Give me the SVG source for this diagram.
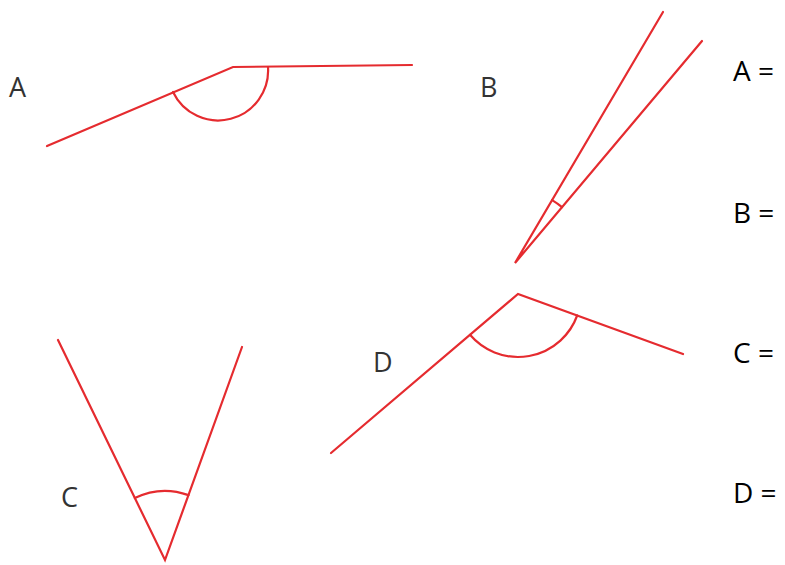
<svg xmlns="http://www.w3.org/2000/svg" width="785" height="565" viewBox="0 0 785 565">
<style>
.ln{fill:none;stroke:#e52b2f;stroke-width:2.2;stroke-linecap:round;stroke-linejoin:miter}
.lbl{font-family:"Open Sans","Liberation Sans",sans-serif;font-size:27px;fill:#333}
.ans{font-family:"Open Sans","Liberation Sans",sans-serif;font-size:28px;fill:#000}
</style>
<rect width="785" height="565" fill="#fff"/>
<g id="angleA">
<polyline class="ln" points="47,146 233,67 412,65"/>
<path class="ln" d="M173,92 A50,50 0 0 0 268,67"/>
<text class="lbl" x="9" y="97">A</text>
</g>
<g id="angleB">
<polyline class="ln" points="663,12 515,263 702,41"/>
<path class="ln" d="M552.1,200.1 A73,73 0 0 1 562,207.2"/>
<text class="lbl" x="480" y="97">B</text>
</g>
<g id="angleC">
<polyline class="ln" points="58,340 165,560 242,347"/>
<path class="ln" d="M134.8,498 A69,69 0 0 1 188.5,495.1"/>
<text class="lbl" x="61" y="507">C</text>
</g>
<g id="angleD">
<polyline class="ln" points="331,453 518,294 683,354"/>
<path class="ln" d="M470,334.8 A63,63 0 0 0 577.2,315.5"/>
<text class="lbl" x="373" y="372">D</text>
</g>
<g id="answers">
<text class="ans" x="733" y="81">A =</text>
<text class="ans" x="733" y="223">B =</text>
<text class="ans" x="733" y="363">C =</text>
<text class="ans" x="733" y="503">D =</text>
</g>
<g id="connectors"></g>
</svg>
